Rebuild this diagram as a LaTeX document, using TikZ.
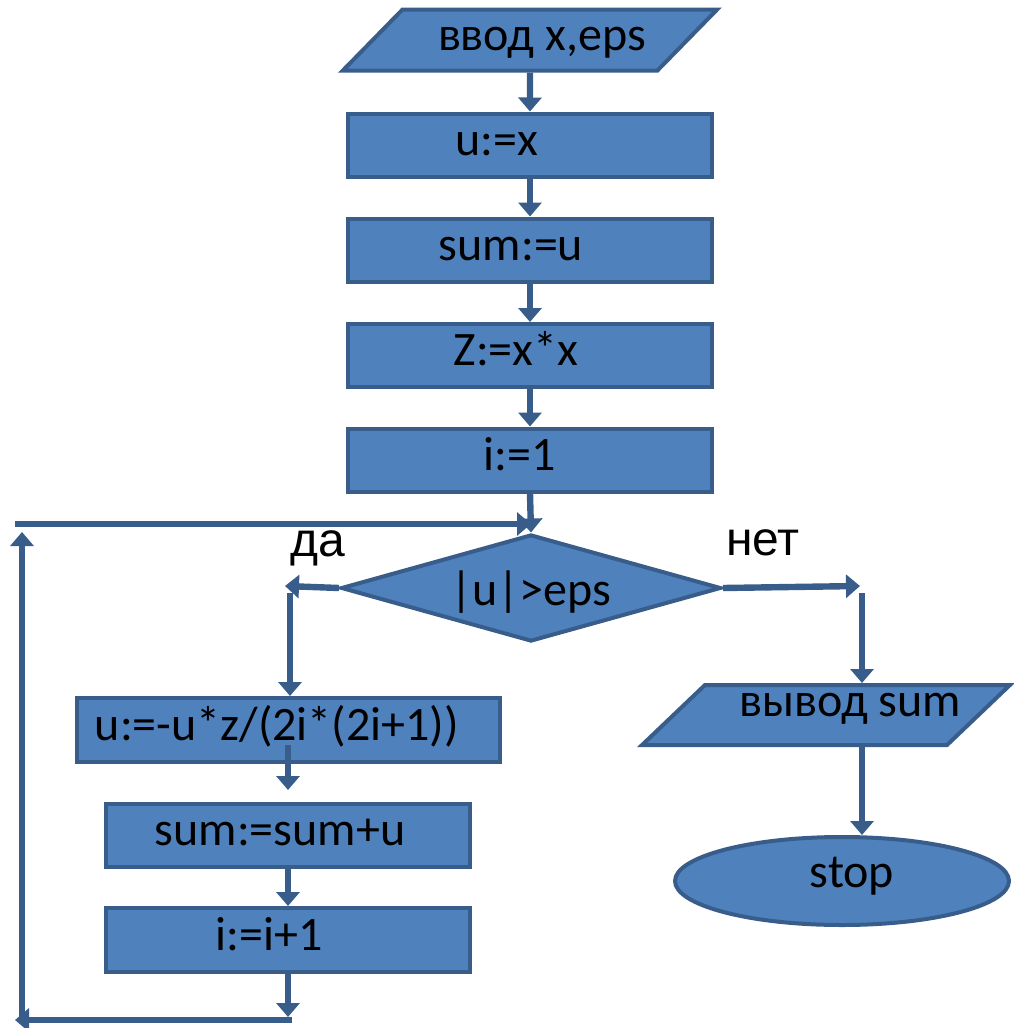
\documentclass[tikz,border=0pt]{standalone}
\usepackage{fontspec}
\setmainfont{Carlito}
\newfontfamily\arialfont{Liberation Sans}
\usetikzlibrary{shapes.geometric}
\usetikzlibrary{arrows.meta}
\definecolor{boxfill}{HTML}{4F81BD}
\definecolor{boxline}{HTML}{385D8A}

\begin{document}
\begin{tikzpicture}[x=0.5pt,y=-0.5pt,
  every node/.style={font=\fontsize{24}{28}\selectfont,text height=16pt,text depth=6pt},
  block/.style={draw=boxline,fill=boxfill,line width=2pt,inner sep=0pt},
  op/.style={block,rectangle,minimum height=31.5pt},
  io/.style={block,trapezium,trapezium stretches=true,minimum height=30.5pt},
  flow/.style={draw=boxline,line width=3.2pt,-{Triangle[width=11.5pt,length=7pt]}},
  branch/.style={font=\arialfont\fontsize{24}{28}\selectfont}]
  \useasboundingbox (0,0) rectangle (1013,1028);

  % main column
  \node[io,trapezium left angle=39,trapezium right angle=141,minimum width=187.5pt]
    (in) at (530,40) {\hspace*{12pt}ввод x,eps};
  \node[op,minimum width=182pt] (u0) at (530,145) {u:=x\hspace*{33pt}};
  \node[op,minimum width=182pt] (sum0) at (530,250) {sum:=u\hspace*{19pt}};
  \node[op,minimum width=182pt] (z0) at (530,355.5) {Z:=x*x\hspace*{14pt}};
  \node[op,minimum width=182pt] (i0) at (530,460) {i:=1\hspace*{10pt}};
  \node[block,diamond,aspect=3.5,minimum width=190pt,minimum height=53.5pt,
    text height=20pt,text depth=3pt] (dec) at (531,588) {|u|>eps};
  \node[branch] (yes) at (318,546) {да};
  \node[branch] (no) at (763,545) {нет};

  % loop body
  \node[op,minimum width=211.5pt,minimum height=32pt] (u1) at (288,730)
    {u:=-u*z/(2i*(2i+1))\hspace*{11pt}};
  \node[op,minimum width=182pt] (sum1) at (288,835.5) {sum:=sum+u\hspace*{8pt}};
  \node[op,minimum width=182pt,minimum height=32pt] (i1) at (288,940)
    {i:=i+1\hspace*{19pt}};

  % exit
  \node[io,trapezium left angle=37.6,trapezium right angle=142.4,minimum width=184pt,
    minimum height=30pt,inner xsep=-20pt,text height=10pt,text depth=9pt]
    (out) at (826,715) {\hspace*{24pt}вывод sum};
  \node[block,ellipse,minimum width=167pt,minimum height=44pt,
    text height=14pt,text depth=8pt] (stop) at (842,881) {\hspace*{10pt}stop};

  \coordinate (yesEnd) at (285,586);
  \coordinate (yesTop) at (290,593);
  \coordinate (noEnd) at (860,586);
  \coordinate (noTop) at (862,593);
  \coordinate (uStart) at ([yshift=9.5pt]u1.south);
  \coordinate (retDown) at (288,1017);
  \coordinate (retR) at (292,1020);
  \coordinate (retL) at (15,1020);
  \coordinate (upFoot) at (22,1020);
  \coordinate (upHead) at (22,532);
  \coordinate (backL) at (15,524);
  \coordinate (backR) at (531,524);

  \draw[flow] (in.south) -- (u0.north);
  \draw[flow] (u0.south) -- (sum0.north);
  \draw[flow] (sum0.south) -- (z0.north);
  \draw[flow] (z0.south) -- (i0.north);
  \draw[flow] (i0.south) -- (dec.north);

  % yes branch
  \draw[flow] (dec.west) -- (yesEnd);
  \draw[flow] (yesTop) -- (yesTop |- u1.north);
  \draw[flow,shorten >=6pt] (uStart) -- (sum1.north);
  \draw[flow] (sum1.south) -- (i1.north);
  \draw[flow] (i1.south) -- (retDown);
  \draw[flow] (retR) -- (retL);
  \draw[flow] (upFoot) -- (upHead);
  \draw[flow] (backL) -- (backR);

  % no branch
  \draw[flow] (dec.east) -- (noEnd);
  \draw[flow] (noTop) -- (noTop |- out.north);
  \draw[flow] (noTop |- out.south) -- (noTop |- stop.north);
\end{tikzpicture}
\end{document}
